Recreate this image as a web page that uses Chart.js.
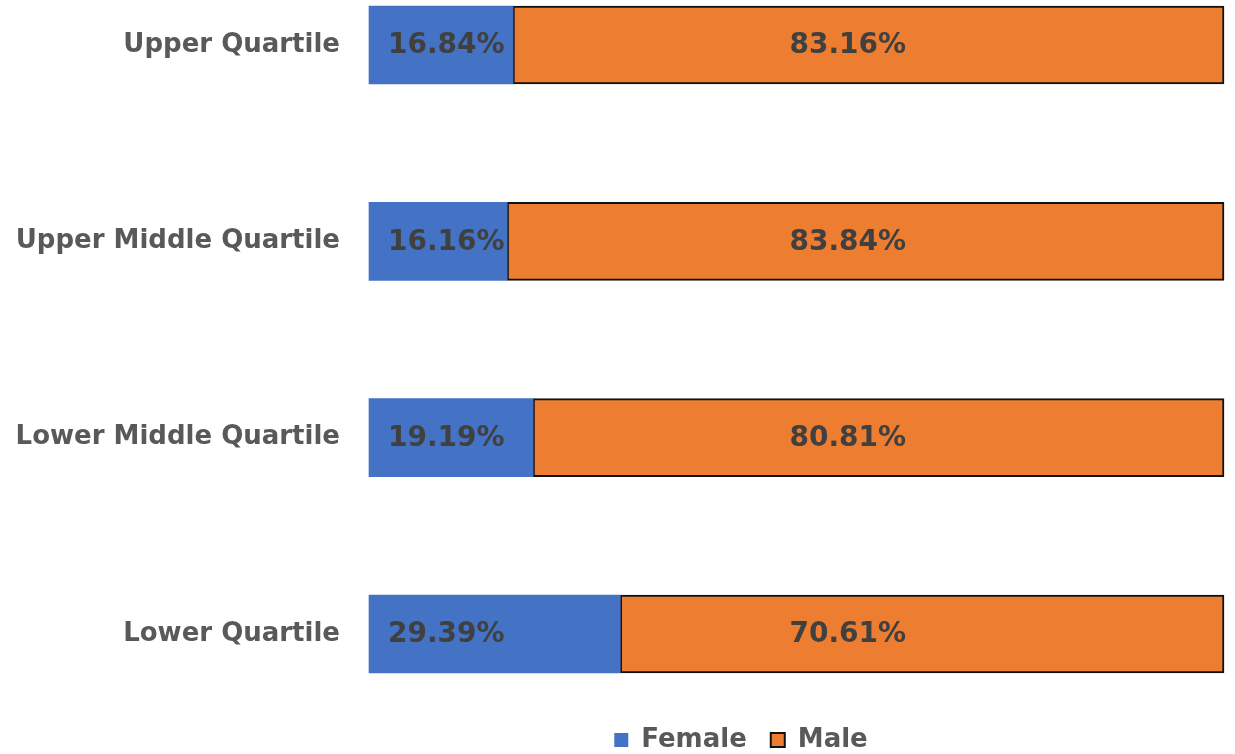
<!DOCTYPE html>
<html>
<head>
<meta charset="utf-8">
<script src="https://cdn.jsdelivr.net/npm/chart.js@4/dist/chart.umd.min.js"></script>
<style>
    html, body { margin: 0; padding: 0; background: #fff; overflow: hidden; }
    #wrap { width: 1235px; height: 763px; }
</style>
</head>
<body>
<div id="wrap"><canvas id="chart"></canvas></div>
<script>
const categories = ["Upper Quartile", "Upper Middle Quartile", "Lower Middle Quartile", "Lower Quartile"];
const female = [16.84, 16.16, 19.19, 29.39];
const male = [83.16, 83.84, 80.81, 70.61];

// where the male labels sit on the 0-100 axis (they are not centred in the reference)
const MALE_LABEL_AT = 56;

const barLabels = {
    id: "barLabels",
    afterLayout(chart) {
        // legend in the reference is centred to the right of the page centre
        chart.legend.left = 258;
    },
    afterDatasetsDraw(chart) {
        const ctx = chart.ctx;
        const xScale = chart.scales.x;
        ctx.save();
        ctx.font = "bold 28px 'DejaVu Sans'";
        ctx.fillStyle = "#404040";
        ctx.textBaseline = "middle";
        chart.data.datasets.forEach((ds, i) => {
            const meta = chart.getDatasetMeta(i);
            meta.data.forEach((bar, j) => {
                const text = ds.data[j].toFixed(2) + "%";
                if (i === 0) {
                    ctx.textAlign = "left";
                    ctx.fillText(text, bar.base + 19, bar.y + 1);
                } else {
                    ctx.textAlign = "center";
                    ctx.fillText(text, xScale.getPixelForValue(MALE_LABEL_AT), bar.y + 1);
                }
            });
        });
        ctx.restore();
    }
};

const ctx = document.getElementById("chart").getContext("2d");

new Chart(ctx, {
    type: "bar",
    data: {
        labels: categories,
        datasets: [
            {
                label: "Female",
                data: female,
                backgroundColor: "#4472C4",
                borderWidth: 0,
                barThickness: 78,
                clip: false,
            },
            {
                label: "Male",
                data: male,
                backgroundColor: "#ED7D31",
                borderColor: "#111111",
                borderWidth: 2,
                borderSkipped: false,
                barThickness: 78,
                clip: false,
            },
        ],
    },
    options: {
        indexAxis: "y",
        responsive: true,
        maintainAspectRatio: false,
        animation: false,
        layout: {
            padding: { left: 0, right: 11, top: 45, bottom: 0 }
        },
        scales: {
            x: {
                stacked: true,
                min: 0,
                max: 100,
                grid: { display: false, drawTicks: false },
                border: { display: false },
                ticks: { display: false },
                afterFit(scale) { scale.height = 69; }
            },
            y: {
                stacked: true,
                offset: false,
                grid: { display: false, drawTicks: false },
                border: { display: false },
                ticks: {
                    padding: 29,
                    color: "#595959",
                    font: { family: "'DejaVu Sans'", size: 26, weight: "bold" }
                },
                afterFit(scale) { scale.width = 369; }
            }
        },
        plugins: {
            legend: {
                position: "bottom",
                labels: {
                    boxWidth: 14,
                    boxHeight: 14,
                    padding: 24,
                    color: "#595959",
                    font: { family: "'DejaVu Sans'", size: 26, weight: "bold" }
                }
            },
            tooltip: { enabled: false }
        }
    },
    plugins: [barLabels]
});
</script>
</body>
</html>
